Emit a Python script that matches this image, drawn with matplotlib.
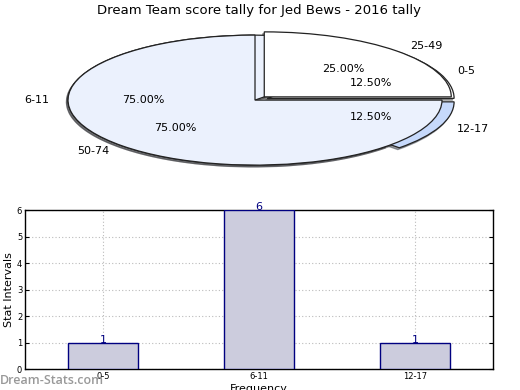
import matplotlib
matplotlib.use("Agg")
import matplotlib.pyplot as plt

title = "Dream Team score tally for Jed Bews - 2016 tally"

# back pie (frequency intervals)
pie1_labels = ["0-5", "6-11", "12-17"]
pie1_values = [1, 6, 1]
pie1_explode = [0.07, 0.0, 0.07]

# front pie (score intervals)
pie2_labels = ["25-49", "50-74"]
pie2_values = [1, 3]
pie2_explode = [0.07, 0.0]

pie_colors = ["#ffffff", "#ebf1fd", "#c6d9fb"]

# bar chart
bar_labels = ["0-5", "6-11", "12-17"]
bar_values = [1, 6, 1]

fig = plt.figure(figsize=(5.2, 3.9), dpi=100)

# ---- pie axes ----
ax1 = fig.add_axes([0.0409, 0.535, 0.899, 0.4167])
wp = dict(edgecolor="#222222", linewidth=0.9)
shadow = dict(ox=-0.006, oy=-0.02, shade=0.7)
ax1.pie(pie1_values, labels=pie1_labels, explode=pie1_explode,
        colors=pie_colors[:3], autopct="%.2f%%", shadow=shadow,
        startangle=0, wedgeprops=wp, textprops=dict(fontsize=8))
ax1.pie(pie2_values, labels=pie2_labels, explode=pie2_explode,
        colors=pie_colors[:2], autopct="%.2f%%", shadow=shadow,
        startangle=0, wedgeprops=wp, textprops=dict(fontsize=8))
ax1.set_aspect("auto")
ax1.set_xlim(-1.25, 1.25)
ax1.set_ylim(-1.25, 1.25)
ax1.axis("off")
fig.text(0.498, 0.973, title, ha="center", va="center", fontsize=9.5)

# ---- bar axes ----
ax2 = fig.add_axes([0.048, 0.0538, 0.9, 0.4077])
x = list(range(len(bar_values)))
ax2.bar(x, bar_values, width=0.45, color="#ccccdd", edgecolor="#000080",
        linewidth=1.0, zorder=3)
for xi, v in zip(x, bar_values):
    ax2.text(xi, v - 0.08, str(v), ha="center", va="bottom", color="#000080",
             fontsize=8, zorder=4)
ax2.set_xlim(-0.5, 2.5)
ax2.set_ylim(0, 6)
ax2.set_xticks(x)
ax2.set_xticklabels(bar_labels)
ax2.set_yticks(range(0, 7))
ax2.tick_params(axis="both", direction="in", labelsize=6, length=3,
                right=True, top=False, pad=2)
ax2.grid(True, linestyle=(0, (1, 2)), color="#bbbbbb", linewidth=0.8, zorder=0)
ax2.set_ylabel("Stat Intervals", fontsize=8, labelpad=2)
ax2.set_xlabel("Frequency", fontsize=8, labelpad=2)
for s in ax2.spines.values():
    s.set_linewidth(1.0)

fig.text(0.0, 0.025, "Dream-Stats.com", ha="left", va="center",
         fontsize=9, color="#999999", family="Open Sans", fontweight="semibold")

fig.savefig("out.png", dpi=100)
